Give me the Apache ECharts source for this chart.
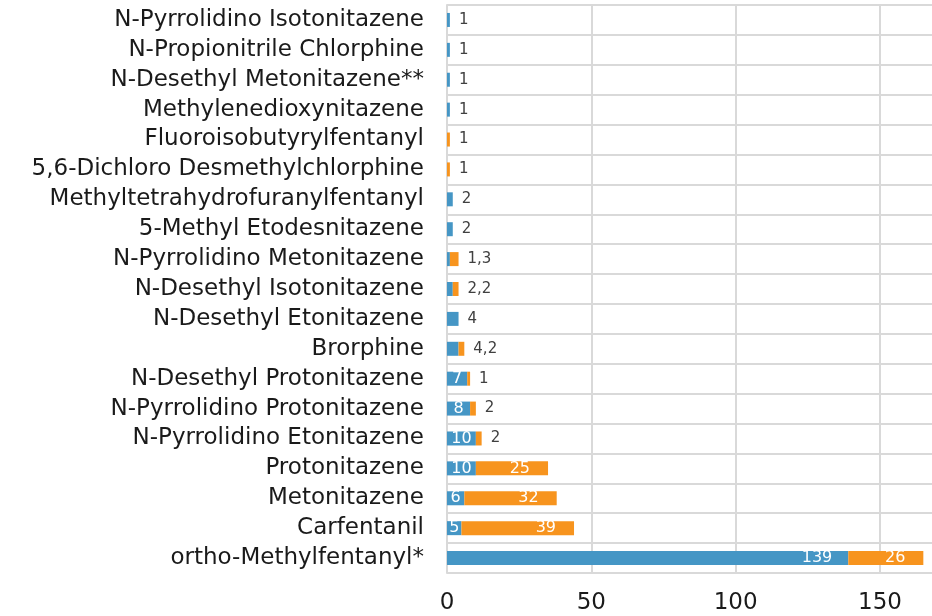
<!DOCTYPE html>
<html>
<head>
<meta charset="utf-8">
<style>
    html, body { margin: 0; padding: 0; background: #fff; }
    #chart { width: 932px; height: 616px; }
</style>
<script src="https://cdn.jsdelivr.net/npm/echarts@6/dist/echarts.min.js"></script>
</head>
<body>
<div id="chart"></div>
<script>
// categories, top to bottom
const categories = [
    'N-Pyrrolidino Isotonitazene',
    'N-Propionitrile Chlorphine',
    'N-Desethyl Metonitazene**',
    'Methylenedioxynitazene',
    'Fluoroisobutyrylfentanyl',
    '5,6-Dichloro Desmethylchlorphine',
    'Methyltetrahydrofuranylfentanyl',
    '5-Methyl Etodesnitazene',
    'N-Pyrrolidino Metonitazene',
    'N-Desethyl Isotonitazene',
    'N-Desethyl Etonitazene',
    'Brorphine',
    'N-Desethyl Protonitazene',
    'N-Pyrrolidino Protonitazene',
    'N-Pyrrolidino Etonitazene',
    'Protonitazene',
    'Metonitazene',
    'Carfentanil',
    'ortho-Methylfentanyl*'
];
const blueValues = [1, 1, 1, 1, 0, 0, 2, 2, 1, 2, 4, 4, 7, 8, 10, 10, 6, 5, 139];
const orangeValues = [0, 0, 0, 0, 1, 1, 0, 0, 3, 2, 0, 2, 1, 2, 2, 25, 32, 39, 26];
// labels written to the right of the bar
const outsideLabels = ['1', '1', '1', '1', '1', '1', '2', '2', '1,3', '2,2', '4', '4,2', '1', '2', '2', '', '', '', ''];
const xTicks = [0, 50, 100, 150];

const FONT = 'DejaVu Sans';
const BLUE = '#4596c5';
const ORANGE = '#f7941e';

let chart = echarts.init(document.getElementById('chart'));

// blue: white label inside when big enough
const blueData = blueValues.map(v => ({
    value: v,
    label: {
        show: v >= 5,
        position: v > 50 ? 'insideRight' : 'inside',
        distance: 16
    }
}));
// orange: white label near the right end when big enough
const orangeData = orangeValues.map(v => ({
    value: v,
    label: { show: v >= 25 }
}));
// zero-width bar at the end of each stack that carries the outside text
const endData = outsideLabels.map(t => ({
    value: 0,
    label: { show: t !== '', formatter: t }
}));

const insideLabel = {
    color: '#fff',
    fontFamily: FONT,
    fontSize: 16
};

let option = {
    animation: false,
    grid: {
        left: 447,
        right: 0,
        top: 5,
        bottom: 43,
        containLabel: false
    },
    xAxis: {
        type: 'value',
        min: 0,
        max: 168,
        interval: 50,
        axisLine: { show: false },
        axisTick: { show: false },
        axisLabel: {
            color: '#1a1a1a',
            fontFamily: FONT,
            fontSize: 23,
            margin: 19,
            showMaxLabel: false,
            formatter: v => xTicks.indexOf(v) >= 0 ? String(v) : ''
        },
        splitLine: { showMaxLine: false, lineStyle: { color: '#d9d9d9', width: 2 } }
    },
    yAxis: {
        type: 'category',
        inverse: true,
        data: categories,
        axisLine: { show: true, lineStyle: { color: '#d9d9d9', width: 2 } },
        axisTick: { show: false },
        axisLabel: {
            color: '#1a1a1a',
            fontFamily: FONT,
            fontSize: 23,
            margin: 23,
            interval: 0
        },
        splitLine: { show: true, lineStyle: { color: '#d9d9d9', width: 2 } }
    },
    series: [
        {
            name: 'blue',
            type: 'bar',
            stack: 'total',
            barWidth: 14,
            itemStyle: { color: BLUE },
            label: insideLabel,
            data: blueData
        },
        {
            name: 'orange',
            type: 'bar',
            stack: 'total',
            barWidth: 14,
            itemStyle: { color: ORANGE },
            label: Object.assign({ position: 'insideRight', distance: 18 }, insideLabel),
            data: orangeData
        },
        {
            name: 'end',
            type: 'bar',
            stack: 'total',
            barWidth: 14,
            itemStyle: { color: 'transparent' },
            label: {
                position: 'right',
                distance: 9,
                color: '#404040',
                fontFamily: FONT,
                fontSize: 15
            },
            data: endData
        }
    ]
};
chart.setOption(option);
</script>
</body>
</html>
